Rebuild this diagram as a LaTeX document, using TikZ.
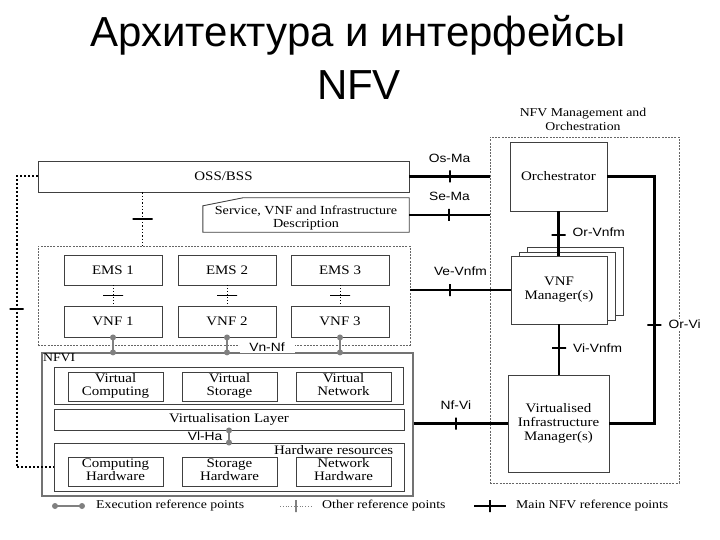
\documentclass[tikz,border=0pt]{standalone}
\usepackage{fontspec}
\setmainfont{Liberation Serif}[FakeStretch=1.15]
\newfontfamily\labelfont{Liberation Sans}[FakeStretch=1.15]
\newfontfamily\titlefont{Liberation Sans}
\usepackage{tikz}
\usetikzlibrary{positioning,arrows.meta,calc}

\begin{document}
\begin{tikzpicture}[
  x=1pt, y=-1pt,
  font=\fontsize{13}{13.5}\selectfont,
  box/.style={draw=black!75, line width=0.9pt, fill=white, inner sep=0pt, align=center},
  panel/.style={draw=black!55, line width=1.2pt, inner sep=0pt},
  dashbox/.style={draw=black!60, line width=0.8pt, dash pattern=on 2pt off 1.2pt, inner sep=0pt},
  main/.style={line width=2.4pt},
  other/.style={dotted, line width=1.3pt},
  exec/.style={draw=gray, line width=1.3pt},
  dot/.style={circle, fill=gray, inner sep=0pt, minimum size=6pt},
  vtick/.style={draw, solid, line width=2pt, inner sep=0pt, minimum width=0pt, minimum height=12pt},
  mtick/.style={draw, solid, line width=2pt, inner sep=0pt, minimum height=0pt, minimum width=14pt},
  htick/.style={draw, solid, line width=1.2pt, inner sep=0pt, minimum height=0pt, minimum width=20pt},
  rp/.style={font=\labelfont\fontsize{12}{12}\selectfont, inner sep=1pt, fill=white},
  legendtext/.style={font=\fontsize{12}{12}\selectfont, anchor=west, inner sep=0pt},
  heading/.style={font=\titlefont\fontsize{42}{50}\selectfont, anchor=base}]
\useasboundingbox (0,0) rectangle (720,540);

\node[heading] (title) at (358,47) {Архитектура и интерфейсы};
\node[heading] (titlenfv) at (359,100) {NFV};

\node[box, minimum width=371, minimum height=31] (oss) at (223.5,176.5) {OSS/BSS};
\node[inner sep=0pt, minimum width=206, minimum height=34] (desc) at (306,215) {};
\draw[draw=black!75, line width=0.9pt] (desc.south west) -- ([yshift=-8pt]desc.north west)
  -- ([xshift=40pt]desc.north west) -- (desc.north east) -- (desc.south east) -- cycle;
\node[align=center, inner sep=0pt, font=\fontsize{12.3}{11.5}\selectfont] (desctext) at ([yshift=-3.5pt]desc.center)
  {\strut Service, VNF and Infrastructure\\Description\strut};

\node[dashbox, minimum width=189, minimum height=346] (mano) at (584.5,310) {};
\node[align=center, font=\fontsize{12}{13.5}\selectfont] (manotitle) at (583,119.5) {NFV Management and\\Orchestration};
\node[box, minimum width=97, minimum height=69] (orch) at (558.5,176.5) {Orchestrator};
\node[box, minimum width=96, minimum height=68] (vnfm3) at (575,281) {};
\node[box, minimum width=96, minimum height=68] (vnfm2) at (567.5,286) {};
\node[box, minimum width=96, minimum height=68] (vnfm) at (559,290) {\strut VNF\\Manager(s)\strut};
\node[box, minimum width=101, minimum height=97, font=\fontsize{13}{14.2}\selectfont] (vim) at (558.5,423.5)
  {\strut Virtualised\\Infrastructure\\Manager(s)\strut};

\node[dashbox, minimum width=372, minimum height=99] (emsgroup) at (224,295.5) {};
\foreach \i/\x in {1/113,2/227,3/340} {
  \node[box, minimum width=98, minimum height=30] (ems\i) at (\x,270) {EMS \i};
  \node[box, minimum width=98, minimum height=31] (vnf\i) at (\x,321.5) {VNF \i};
  \draw[other, line width=1pt] (ems\i) -- node[htick] {} (vnf\i);
}

\node[panel, minimum width=371, minimum height=143] (nfvi) at (227.5,424.5) {};
\node[anchor=north west, inner sep=1.5pt, font=\fontsize{12}{12}\selectfont] (nfvilabel) at (nfvi.north west) {NFVI};
\node[box, minimum width=349, minimum height=37] (virtres) at (228.5,385.5) {};
\node[box, minimum width=350, minimum height=21] (vlayer) at (229,419.5) {Virtualisation Layer};
\node[box, minimum width=350, minimum height=48] (hwres) at (229,467) {};
\node[anchor=north east, inner sep=1pt] (hwlabel) at ([xshift=-10pt,yshift=-1.5pt]hwres.north east) {Hardware resources};
\foreach \i/\x/\kind in {1/115.5/Computing,2/229.5/Storage,3/343.5/Network} {
  \node[box, minimum width=95, minimum height=29] (virt\i) at (\x,386.5) {\strut Virtual\\\kind\strut};
  \node[box, minimum width=95, minimum height=29] (hw\i) at (\x,471.5) {\strut\kind\\Hardware\strut};
}

\foreach \i in {1,2,3}
  \draw[exec] (vnf\i.south) -- (vnf\i.south |- nfvi.north) node[dot] {} node[dot, pos=0] {};
\node[rp, minimum width=55, minimum height=12] (vnnf) at (267,347) {Vn-Nf};
\draw[exec] (vlayer.south) -- node[rp, fill=none, left=5pt] {Vl-Ha} (hwres.north) node[dot] {} node[dot, pos=0] {};

\draw[main] (oss.east) -- node[vtick] {} node[rp, above=12pt] {Os-Ma} (oss.east -| mano.west);
\draw[main] (desc.east) -- node[vtick] {} node[rp, above=12pt] {Se-Ma} (desc.east -| mano.west);
\draw[main] (emsgroup.east |- vnfm.west) -- node[vtick, pos=.4] {} node[rp, pos=.5, above=12pt] {Ve-Vnfm} (vnfm.west);
\draw[main] (nfvi.east |- vim.west) -- node[vtick, pos=.45] {} node[rp, pos=.45, above=12pt] {Nf-Vi} (vim.west);
\draw[main] (orch.south) -- node[mtick, pos=.53] {} node[rp, pos=.48, right=12pt] {Or-Vnfm} (orch.south |- vnfm.north);
\draw[main] (vnfm.south) -- node[mtick, pos=.47] {} node[rp, pos=.47, right=12pt] {Vi-Vnfm} (vnfm.south |- vim.north);
\draw[main] (orch.east) -- ++(47,0) |- node[mtick, pos=.3] {} node[rp, pos=.3, right=12pt] {Or-Vi} (vim.east);

\coordinate (ossdown) at ([xshift=105pt]oss.south west);
\draw[other] (ossdown) -- node[htick] {} (ossdown |- emsgroup.north);
\draw[other, line width=2pt] (oss.west) -- ++(-21,0) |- node[mtick, pos=.228] {} (hwres.west);

\node[legendtext] (lgexec) at (96,506) {Execution reference points};
\draw[exec] ([xshift=-41pt]lgexec.west) -- ([xshift=-14pt]lgexec.west) node[dot] {} node[dot, pos=0] {};
\node[legendtext] (lgother) at (322,506) {Other reference points};
\draw[dotted, draw=gray, line width=0.8pt] ([xshift=-42pt]lgother.west) -- node[vtick, line width=1.2pt] {} ([xshift=-10pt]lgother.west);
\node[legendtext] (lgmain) at (516,506) {Main NFV reference points};
\draw[main] ([xshift=-42pt]lgmain.west) -- node[vtick] {} ([xshift=-10pt]lgmain.west);
\end{tikzpicture}
\end{document}
